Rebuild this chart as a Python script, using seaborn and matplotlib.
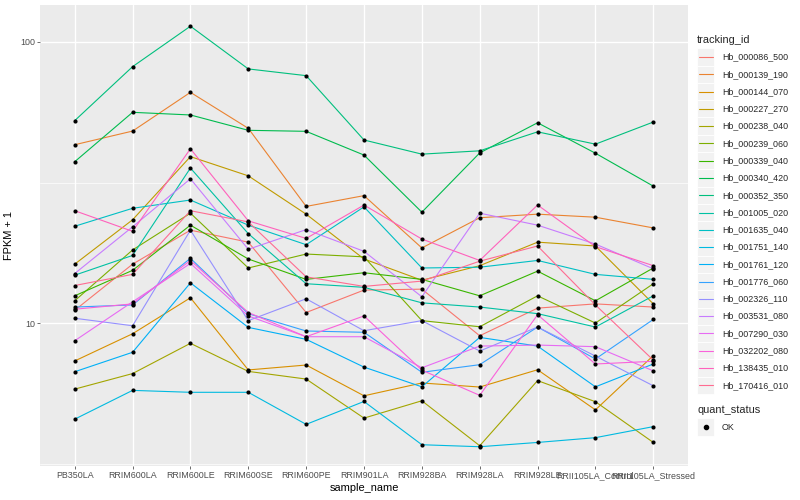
import matplotlib
matplotlib.use("Agg")
import matplotlib.pyplot as plt
import seaborn as sns
import pandas as pd
from matplotlib.lines import Line2D
from matplotlib.patches import Rectangle
from matplotlib.ticker import FixedLocator, FixedFormatter, NullFormatter

# ---------------- data ----------------
samples = ["PB350LA", "RRIM600LA", "RRIM600LE", "RRIM600SE", "RRIM600PE",
           "RRIM901LA", "RRIM928BA", "RRIM928LA", "RRIM928LE",
           "RRII105LA_Control", "RRII105LA_Stressed"]

tracking_ids = ["Hb_000086_500", "Hb_000139_190", "Hb_000144_070", "Hb_000227_270",
                "Hb_000238_040", "Hb_000239_060", "Hb_000339_040", "Hb_000340_420",
                "Hb_000352_350", "Hb_001005_020", "Hb_001635_040", "Hb_001751_140",
                "Hb_001761_120", "Hb_001776_060", "Hb_002326_110", "Hb_003531_080",
                "Hb_007290_030", "Hb_032202_080", "Hb_138435_010", "Hb_170416_010"]

# FPKM + 1 per sample, in the order of `samples`
hb_000086_500 = [11.1, 16.2, 21.4, 19.4, 10.9, 13.1, 13.2, 9.01, 11.3, 11.7, 11.4]
hb_000139_190 = [43.1, 48.2, 66.2, 49.3, 26.0, 28.4, 18.5, 23.7, 24.4, 23.8, 21.8]
hb_000144_070 = [7.33, 9.16, 12.3, 6.81, 7.09, 5.51, 6.12, 5.92, 6.82, 4.91, 7.66]
hb_000227_270 = [16.2, 23.3, 39.1, 33.4, 24.4, 16.9, 14.2, 16.0, 19.4, 18.8, 11.7]
hb_000238_040 = [5.82, 6.61, 8.47, 6.73, 6.32, 4.59, 5.29, 3.66, 6.24, 5.25, 3.76]
hb_000239_060 = [12.0, 18.2, 24.6, 15.7, 17.6, 17.2, 10.2, 9.70, 12.5, 10.0, 13.8]
hb_000339_040 = [12.5, 15.4, 22.3, 16.9, 14.3, 15.1, 14.3, 12.5, 15.3, 12.0, 15.7]
hb_000340_420 = [37.5, 56.2, 55.0, 48.5, 48.1, 39.6, 24.8, 40.3, 51.6, 40.2, 30.7]
hb_000352_350 = [52.5, 81.7, 113.8, 80.2, 75.9, 44.8, 39.9, 41.0, 47.9, 43.3, 51.9]
hb_001005_020 = [14.8, 17.4, 35.6, 20.8, 13.8, 13.4, 11.8, 11.4, 10.8, 9.68, 12.5]
hb_001635_040 = [22.1, 25.6, 27.4, 22.3, 19.0, 25.9, 15.7, 15.8, 16.7, 14.9, 14.3]
hb_001751_140 = [4.55, 5.76, 5.67, 5.67, 4.36, 5.26, 3.69, 3.63, 3.76, 3.91, 4.28]
hb_001761_120 = [6.71, 7.87, 13.9, 9.65, 8.75, 6.97, 5.93, 8.89, 8.28, 5.93, 7.15]
hb_001776_060 = [11.4, 11.6, 17.0, 10.8, 9.37, 9.27, 6.68, 7.11, 9.68, 7.45, 10.3]
hb_002326_110 = [10.4, 9.78, 21.4, 10.2, 12.2, 9.39, 10.2, 7.95, 9.68, 7.63, 5.98]
hb_003531_080 = [15.0, 22.0, 32.6, 18.3, 21.5, 18.0, 12.4, 24.6, 22.3, 19.1, 15.6]
hb_007290_030 = [8.65, 11.9, 16.3, 10.6, 8.94, 8.94, 6.93, 8.28, 8.35, 8.24, 6.76]
hb_032202_080 = [11.2, 11.7, 16.7, 10.9, 8.94, 10.6, 6.80, 5.53, 10.7, 7.15, 7.31]
hb_138435_010 = [25.1, 21.2, 41.7, 23.1, 20.0, 26.3, 19.9, 16.7, 26.3, 18.7, 16.0]
hb_170416_010 = [13.6, 14.9, 25.1, 22.9, 14.6, 13.5, 14.1, 16.6, 18.8, 11.6, 7.38]

series = [hb_000086_500, hb_000139_190, hb_000144_070, hb_000227_270, hb_000238_040,
          hb_000239_060, hb_000339_040, hb_000340_420, hb_000352_350, hb_001005_020,
          hb_001635_040, hb_001751_140, hb_001761_120, hb_001776_060, hb_002326_110,
          hb_003531_080, hb_007290_030, hb_032202_080, hb_138435_010, hb_170416_010]

colors = ["#F8766D", "#EA8331", "#D89000", "#C09B00", "#A3A500", "#7CAE00", "#39B600",
          "#00BB4E", "#00BF7D", "#00C1A3", "#00BFC4", "#00BAE0", "#00B0F6", "#35A2FF",
          "#9590FF", "#C77CFF", "#E76BF3", "#FA62DB", "#FF62BC", "#FF6C91"]

quant_status = ["OK"]

rows = []
for tid, vals in zip(tracking_ids, series):
    for i, (s, v) in enumerate(zip(samples, vals)):
        rows.append({"tracking_id": tid, "sample_name": s, "pos": i,
                     "fpkm": v, "quant_status": "OK"})
df = pd.DataFrame(rows)

# ---------------- style ----------------
sns.set_theme(style="darkgrid")
plt.rcParams["font.family"] = ["Liberation Sans", "DejaVu Sans"]
plt.rcParams["axes.facecolor"] = "#EBEBEB"

W, H = 800, 500
fig = plt.figure(figsize=(8, 5), dpi=100)
fig.patch.set_facecolor("white")
ax = fig.add_axes([40 / W, 1 - 466 / H, 648 / W, 461 / H])
ax.set_facecolor("#EBEBEB")

palette = dict(zip(tracking_ids, colors))
sns.lineplot(data=df, x="pos", y="fpkm", hue="tracking_id", hue_order=tracking_ids,
             palette=palette, estimator=None, sort=False, linewidth=0.8,
             legend=False, ax=ax, zorder=2)
sns.scatterplot(data=df, x="pos", y="fpkm", color="black", s=9, linewidth=0,
                marker="o", legend=False, ax=ax, zorder=3)

ax.set_yscale("log")
ax.set_ylim(3.10, 135.4)
ax.set_xlim(-0.6, len(samples) - 1 + 0.6)

ax.yaxis.set_major_locator(FixedLocator([10, 100]))
ax.yaxis.set_major_formatter(FixedFormatter(["10", "100"]))
ax.yaxis.set_minor_locator(FixedLocator([10 ** 0.5, 10 ** 1.5]))
ax.yaxis.set_minor_formatter(NullFormatter())
ax.set_xticks(range(len(samples)))
ax.set_xticklabels(samples)

ax.grid(which="major", color="white", linewidth=1.0)
ax.grid(which="minor", axis="y", color="white", linewidth=0.5)
ax.set_axisbelow(True)
for sp in ax.spines.values():
    sp.set_visible(False)

ax.tick_params(axis="both", which="major", length=2.0, width=0.5, color="#333333",
               labelsize=6.4, labelcolor="#4D4D4D", pad=1.6, bottom=True, left=True)
ax.tick_params(axis="both", which="minor", length=0)

ax.set_xlabel("sample_name", fontsize=7.9, color="black", labelpad=2)
ax.set_ylabel("FPKM + 1", fontsize=7.9, color="black", labelpad=4)

# ---------------- legend (ggplot-like) ----------------
def fx(x):
    return x / W

def fy(y):
    return 1 - y / H

key = 17.28
kx0 = 697
fig.text(fx(kx0), fy(40), "tracking_id", fontsize=7.9, va="center", ha="left")
for i, (tid, col) in enumerate(zip(tracking_ids, colors)):
    yc = 57 + key * i
    fig.add_artist(Rectangle((fx(kx0), fy(yc + key / 2)), key / W, key / H,
                             transform=fig.transFigure, facecolor="#F2F2F2",
                             edgecolor="white", linewidth=0.6))
    fig.add_artist(Line2D([fx(kx0 + 1.7), fx(kx0 + key - 1.7)], [fy(yc), fy(yc)],
                          transform=fig.transFigure, color=col, linewidth=0.8))
    fig.text(fx(722), fy(yc), tid, fontsize=6.4, va="center", ha="left")

fig.text(fx(kx0), fy(410), "quant_status", fontsize=7.9, va="center", ha="left")
for j, qs in enumerate(quant_status):
    yc = 427 + key * j
    fig.add_artist(Rectangle((fx(kx0), fy(yc + key / 2)), key / W, key / H,
                             transform=fig.transFigure, facecolor="#F2F2F2",
                             edgecolor="white", linewidth=0.6))
    fig.add_artist(Line2D([fx(kx0 + key / 2)], [fy(yc)], transform=fig.transFigure,
                          marker="o", markersize=3, color="black", linestyle="none"))
    fig.text(fx(722), fy(yc), qs, fontsize=6.4, va="center", ha="left")

fig.savefig("out.png", dpi=100, facecolor="white")
